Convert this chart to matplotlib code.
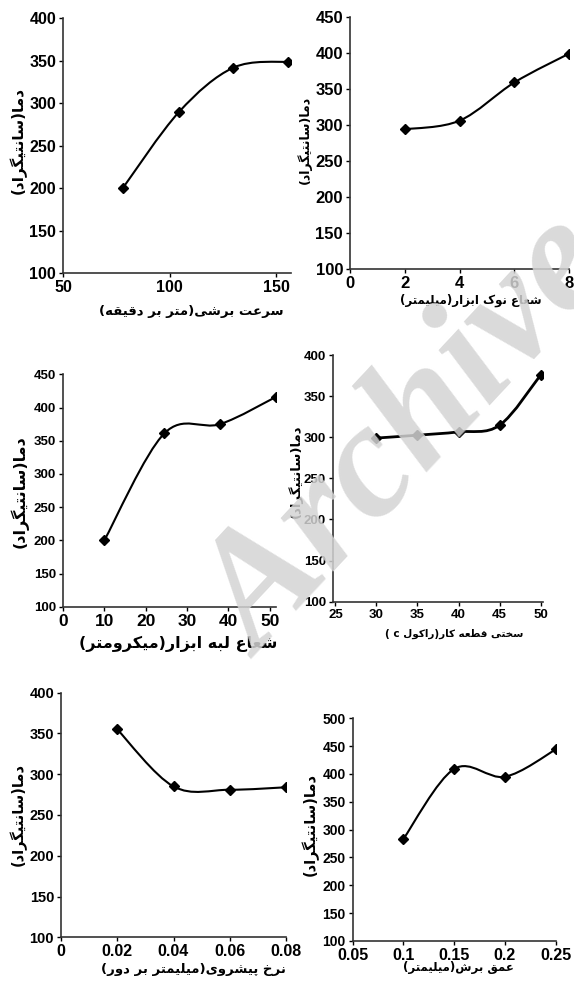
import matplotlib
matplotlib.use("Agg")
import matplotlib.pyplot as plt
from matplotlib.path import Path
from matplotlib.patches import PathPatch

# values
speed = [78, 104.5, 130, 155.5]
speed_temp = [200, 290, 342, 349]

nose = [2, 4, 6, 8]
nose_temp = [294, 306, 359, 399]

edge = [10, 24.5, 38, 51.5]
edge_temp = [200, 361, 375, 416]

hard = [30, 35, 40, 45, 50]
hard_temp = [299, 302.5, 306.5, 314.5, 375.5]

feed = [0.02, 0.04, 0.06, 0.08]
feed_temp = [355, 285, 281, 284]

depth = [0.1, 0.15, 0.2, 0.25]
depth_temp = [283, 409, 395, 444]

ylab = "دما(سانتیگراد)"
xlabs = ["سرعت برشی(متر بر دقیقه)", "شعاع نوک ابزار(میلیمتر)",
         "شعاع لبه ابزار(میکرومتر)", "سختی قطعه کار(راکول c )",
         "نرخ پیشروی(میلیمتر بر دور)", "عمق برش(میلیمتر)"]

# arabic presentation forms: isolated, final, initial, medial
forms = {
    'ا': 'ﺍﺎ', 'آ': 'ﺁﺂ', 'د': 'ﺩﺪ', 'ذ': 'ﺫﺬ', 'ر': 'ﺭﺮ', 'ز': 'ﺯﺰ',
    'ژ': '\ufb8a\ufb8b', 'و': 'ﻭﻮ',
    'ب': 'ﺏﺐﺑﺒ', 'ت': 'ﺕﺖﺗﺘ', 'ث': 'ﺙﺚﺛﺜ', 'ج': 'ﺝﺞﺟﺠ', 'ح': 'ﺡﺢﺣﺤ',
    'خ': 'ﺥﺦﺧﺨ', 'س': 'ﺱﺲﺳﺴ', 'ش': 'ﺵﺶﺷﺸ', 'ص': 'ﺹﺺﺻﺼ', 'ض': 'ﺽﺾﺿﻀ',
    'ط': 'ﻁﻂﻃﻄ', 'ظ': 'ﻅﻆﻇﻈ', 'ع': 'ﻉﻊﻋﻌ', 'غ': 'ﻍﻎﻏﻐ', 'ف': 'ﻑﻒﻓﻔ',
    'ق': 'ﻕﻖﻗﻘ', 'ل': 'ﻝﻞﻟﻠ', 'م': 'ﻡﻢﻣﻤ', 'ن': 'ﻥﻦﻧﻨ', 'ه': 'ﻩﻪﻫﻬ',
    'پ': '\ufb56\ufb57\ufb58\ufb59', 'چ': '\ufb7a\ufb7b\ufb7c\ufb7d',
    'ک': '\ufb8e\ufb8f\ufb90\ufb91', 'گ': '\ufb92\ufb93\ufb94\ufb95',
    'ی': '\ufbfc\ufbfd\ufbfe\ufbff',
}


def fa(s):
    out = []
    for i, c in enumerate(s):
        if c not in forms:
            out.append(c)
            continue
        prev = s[i - 1] if i > 0 else ''
        nxt = s[i + 1] if i + 1 < len(s) else ''
        jp = prev in forms and len(forms[prev]) == 4
        jn = len(forms[c]) == 4 and nxt in forms
        f = forms[c]
        if jp and jn:
            out.append(f[3])
        elif jn:
            out.append(f[2])
        elif jp:
            out.append(f[1])
        else:
            out.append(f[0])
    vis = ''.join(reversed(out))
    return vis.replace('(', '\0').replace(')', '(').replace('\0', ')')


def smooth(ax, x, y, lw=1.5):
    # excel style smoothed line as bezier segments
    px = [x[0]] + list(x) + [x[-1]]
    py = [y[0]] + list(y) + [y[-1]]
    verts = [(x[0], y[0])]
    codes = [Path.MOVETO]
    for i in range(1, len(px) - 2):
        c1 = (px[i] + (px[i + 1] - px[i - 1]) / 6, py[i] + (py[i + 1] - py[i - 1]) / 6)
        c2 = (px[i + 1] - (px[i + 2] - px[i]) / 6, py[i + 1] - (py[i + 2] - py[i]) / 6)
        verts += [c1, c2, (px[i + 1], py[i + 1])]
        codes += [Path.CURVE4] * 3
    ax.add_patch(PathPatch(Path(verts, codes), fill=False, lw=lw, color='black', zorder=3))
    ax.plot(x, y, ls='none', marker='D', ms=5, color='black', zorder=4)


W, H = 574, 981
fig = plt.figure(figsize=(W / 100, H / 100), dpi=100)

sans = ['Liberation Sans', 'DejaVu Sans']
narrow = ['Liberation Sans Narrow', 'Liberation Sans', 'DejaVu Sans']
arab = ['DejaVu Sans', 'Liberation Sans']


def make(l, r, t, b, x, y, xlim, ylim, xt, yt, xfs, yfs, fam=sans, lw=1.5):
    ax = fig.add_axes([l / W, 1 - b / H, (r - l) / W, (b - t) / H])
    smooth(ax, x, y, lw)
    ax.set_xlim(xlim)
    ax.set_ylim(ylim)
    ax.set_xticks(xt)
    ax.set_yticks(yt)
    ax.set_xticklabels([('%g' % v) for v in xt], fontsize=xfs, fontweight='bold', family=fam)
    ax.set_yticklabels([('%g' % v) for v in yt], fontsize=yfs, fontweight='bold', family=fam)
    for s in ['top', 'right']:
        ax.spines[s].set_visible(False)
    for s in ['left', 'bottom']:
        ax.spines[s].set_linewidth(1.2)
        ax.spines[s].set_color('#333333')
    ax.tick_params(direction='out', length=3, width=1, pad=2, colors='black')
    ax.set_facecolor('none')
    return ax


def label(x, y, s, fs, rot=0):
    fig.text(x / W, 1 - y / H, fa(s), fontsize=fs, fontweight='bold', family=arab,
             ha='center', va='center', rotation=rot)


make(63, 291, 18.3, 273.3, speed, speed_temp, (50, 157), (100, 400),
     [50, 100, 150], range(100, 401, 50), 11.5, 11.5)
make(350, 569.3, 16.7, 269.3, nose, nose_temp, (0, 8), (100, 450),
     [0, 2, 4, 6, 8], range(100, 451, 50), 12, 12, narrow)
make(63, 276, 374.3, 606.7, edge, edge_temp, (0, 51.5), (100, 450),
     [0, 10, 20, 30, 40, 50], range(100, 451, 50), 12.5, 9.5)
make(333, 543, 355, 601.7, hard, hard_temp, (24.7, 50.3), (100, 400),
     [25, 30, 35, 40, 45, 50], range(100, 401, 50), 9.5, 9.5, narrow, 2)
make(61, 286, 692.7, 937.3, feed, feed_temp, (0, 0.08), (100, 400),
     [0, 0.02, 0.04, 0.06, 0.08], range(100, 401, 50), 11.5, 10.5)
make(352.5, 555.7, 718.3, 941, depth, depth_temp, (0.05, 0.25), (100, 500),
     [0.05, 0.1, 0.15, 0.2, 0.25], range(100, 501, 50), 11.5, 10)

label(18, 140, ylab, 11, 90)
label(304, 140, ylab, 9, 90)
label(19, 492, ylab, 11.5, 90)
label(295, 471, ylab, 9.5, 90)
label(18, 815, ylab, 10.5, 90)
label(310, 825, ylab, 10.5, 90)

label(191, 311, xlabs[0], 9.5)
label(471, 300, xlabs[1], 8.5)
label(178, 644, xlabs[2], 11.5)
label(454, 634, xlabs[3], 7.5)
label(193, 969, xlabs[4], 9.5)
label(458, 968, xlabs[5], 8.5)

# watermark
fig.text(412 / W, 1 - 440 / H, 'Archive', fontsize=118, fontweight='bold', style='italic',
         family=['Liberation Serif', 'DejaVu Serif'], color='#d4d4d4', alpha=0.85,
         rotation=47, ha='center', va='center', zorder=10)

fig.savefig('out.png', dpi=100)
